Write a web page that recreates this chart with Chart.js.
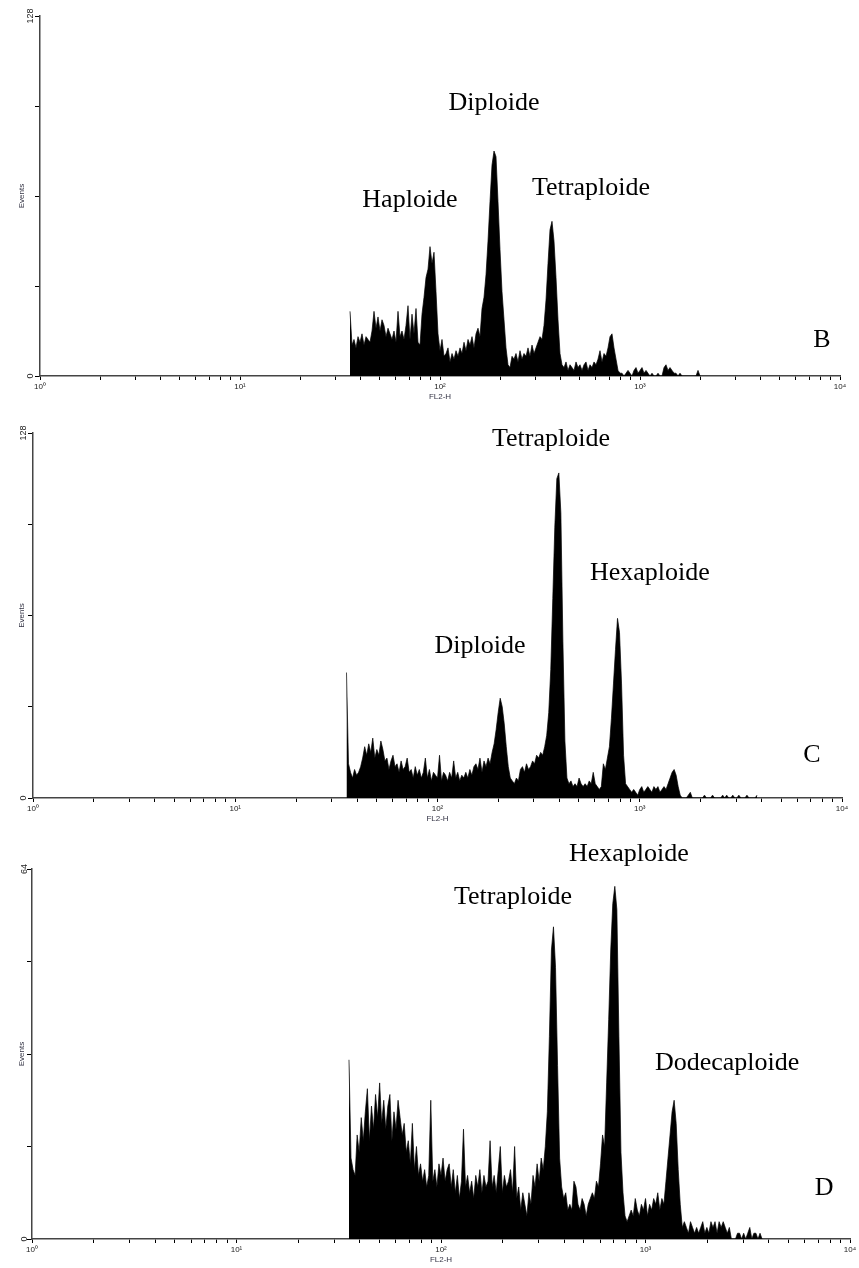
<!DOCTYPE html>
<html><head><meta charset="utf-8">
<script src="https://cdn.jsdelivr.net/npm/chart.js@4.4.1/dist/chart.umd.min.js"></script>
<style>
html,body{margin:0;padding:0;background:#fff;}
body{width:859px;height:1268px;position:relative;overflow:hidden;}
.panel{position:absolute;left:0;width:859px;}
canvas{display:block;}
</style></head><body>
<div class="panel" style="top:0;height:410px"><canvas id="cB" width="859" height="410"></canvas></div>
<div class="panel" style="top:410px;height:420px"><canvas id="cC" width="859" height="420"></canvas></div>
<div class="panel" style="top:830px;height:438px"><canvas id="cD" width="859" height="438"></canvas></div>
<script>
// Channels: log10(FL2-H) of first bin and bin step (0.01 decade per channel)
const BIN_START = 1.55;
const BIN_STEP = 0.01;

// Panel B counts (Events per channel)
const countsB = [
23,11,13,10,14,12,15,11,14,13,
12,16,23,17,21,16,20,18,14,17,
15,13,16,12,23,14,16,13,18,25,
13,22,15,24,12,11,22,28,35,38,
46,40,44,30,15,9,13,7,8,10,
5,8,6,9,7,10,8,12,9,13,
11,14,10,15,17,14,24,28,36,48,
62,75,80,78,62,45,30,20,10,4,
3,7,6,8,5,9,6,8,7,10,
7,11,8,10,12,14,13,18,27,40,
52,55,48,35,20,8,4,3,5,2,
4,3,2,5,3,4,2,4,5,2,
4,3,5,4,6,9,5,8,7,10,
14,15,10,6,2,1,1,0,1,2,
1,0,2,3,1,2,3,1,2,1,
0,1,0,0,1,0,0,3,4,2,
3,2,1,1,0,1,0,0,0,0,
0,0,0,0,2,0];

// Panel C counts
const countsC = [
44,12,9,7,10,8,9,11,14,18,
15,19,16,21,14,17,15,20,17,13,
14,10,13,15,11,12,9,13,10,11,
14,9,10,7,11,8,10,7,9,14,
7,10,6,9,8,7,15,6,9,8,
6,9,7,13,7,9,6,8,7,9,
7,10,8,11,12,10,14,9,13,11,
14,12,16,19,24,30,35,32,26,18,
11,7,6,5,7,6,10,11,9,12,
10,11,13,12,15,14,16,15,18,22,
30,45,70,95,112,114,100,55,20,7,
5,6,4,5,4,7,5,4,5,4,
6,5,9,5,4,3,4,12,10,14,
18,28,40,52,63,58,40,15,5,4,
3,2,3,2,1,3,4,2,3,4,
3,2,4,3,4,2,3,4,3,5,
7,9,10,8,4,1,0,0,0,1,
2,0,0,0,0,0,0,1,0,0,
0,1,0,0,0,0,1,0,1,0,
0,1,0,0,1,0,0,0,1,0,
0,0,0,1];

// Panel D counts
const countsD = [
31,14,12,11,18,15,21,17,22,26,
17,23,19,25,21,27,20,24,19,23,
25,17,22,19,24,21,18,20,15,17,
13,20,12,16,11,13,10,12,9,11,
24,10,12,9,13,11,14,10,12,13,
9,12,8,11,7,10,19,9,11,8,
10,7,11,9,12,8,11,9,10,17,
9,11,8,12,16,8,11,9,10,12,
8,16,7,9,5,8,6,4,8,6,
11,9,13,10,14,12,16,22,35,50,
54,47,30,14,9,7,8,5,6,5,
10,9,6,5,7,6,4,6,7,8,
7,10,9,13,18,16,27,38,50,58,
61,57,35,15,8,4,3,4,5,4,
7,5,4,6,5,7,4,6,5,7,
6,8,5,7,6,10,14,18,22,24,
20,12,6,2,3,2,1,3,2,1,
2,1,2,3,1,2,1,3,2,3,
1,3,2,3,2,1,2,0,0,0,
1,1,0,1,0,1,2,0,1,1,
0,1,0];

// Axis tick values
const xDecades = [1,10,100,1000,10000];
const xMultiples = [1,2,3,4,5,6,7,8,9];
const yMaxB = 128, yMaxC = 128, yMaxD = 64;

// Peak labels: text, log10(FL2-H) of centre, Events at baseline
const labelsB = ["Haploide","Diploide","Tetraploide","B"];
const labelLogXB = [1.85, 2.27, 2.755, 3.91];
const labelYB = [60.1, 94.6, 64.4, 10.3];
const labelsC = ["Tetraploide","Hexaploide","Diploide","C"];
const labelLogXC = [2.561, 3.050, 2.210, 3.851];
const labelYC = [123.4, 76.4, 50.8, 12.6];
const labelsD = ["Tetraploide","Hexaploide","Dodecaploide","D"];
const labelLogXD = [2.352, 2.919, 3.399, 3.873];
const labelYD = [58.0, 65.4, 29.2, 7.6];

const SUP = {'0':'\u2070','1':'\u00B9','2':'\u00B2','3':'\u00B3','4':'\u2074'};
const xTickValues = [];
xDecades.forEach((d,k)=>{ if(k<xDecades.length-1){ xMultiples.forEach(m=>xTickValues.push(d*m)); } else xTickValues.push(d); });

const peakLabelPlugin = {
  id:'peakLabels',
  afterDraw(chart){
    const o = chart.options.plugins.peakLabels;
    const ctx = chart.ctx, xs = chart.scales.x, ys = chart.scales.y;
    ctx.save();
    ctx.font = '26px "Liberation Serif", "Times New Roman", serif';
    ctx.fillStyle = '#000';
    ctx.textAlign = 'center';
    ctx.textBaseline = 'alphabetic';
    o.texts.forEach((t,i)=>{
      ctx.fillText(t, xs.getPixelForValue(Math.pow(10,o.logx[i])), ys.getPixelForValue(o.y[i]));
    });
    ctx.restore();
  }
};

function makePanel(id, counts, yMax, texts, logx, ly, g){
  const pts = counts.map((c,i)=>({x: Math.pow(10, BIN_START + BIN_STEP*i), y: c}));
  const yTicks = [0, yMax/4, yMax/2, 3*yMax/4, yMax];
  new Chart(document.getElementById(id), {
    type:'line',
    data:{datasets:[{data:pts, borderColor:'#000', borderWidth:0.7, backgroundColor:'#000',
      fill:'origin', pointRadius:0, tension:0}]},
    options:{
      responsive:false, animation:false, devicePixelRatio:1,
      layout:{padding:{top:g.top, right:g.padRight, left:0, bottom:0}},
      plugins:{legend:{display:false}, tooltip:{enabled:false},
        peakLabels:{texts:texts, logx:logx, y:ly}},
      scales:{
        x:{type:'logarithmic', min:1, max:10000,
          afterBuildTicks:s=>{ s.ticks = xTickValues.map(v=>({value:v})); },
          afterFit:s=>{ s.height = g.xAxisH; },
          ticks:{autoSkip:false, maxRotation:0, minRotation:0, padding:2, color:'#222',
            font:{size:8, family:'"Liberation Sans", Arial, sans-serif'},
            callback:(v)=>{ const e = Math.round(Math.log10(v)); return (Math.abs(Math.pow(10,e)-v)<1e-6) ? '10'+SUP[String(e)] : ''; }},
          grid:{drawOnChartArea:false, drawTicks:true, tickLength:4, color:'#000', lineWidth:1},
          border:{display:true, color:'#444', width:1.5},
          title:{display:true, text:'FL2-H', color:'#334', font:{size:8, family:'"Liberation Sans", Arial, sans-serif'},
            padding:{top:0, bottom:g.titlePad}}
        },
        y:{type:'linear', min:0, max:yMax,
          afterBuildTicks:s=>{ s.ticks = yTicks.map(v=>({value:v})); },
          afterFit:s=>{ s.width = g.left; },
          ticks:{autoSkip:false, minRotation:90, maxRotation:90, crossAlign:'center', padding:-3, color:'#222',
            font:{size:9, family:'"Liberation Sans", Arial, sans-serif'},
            callback:(v)=> (v===0 || v===yMax) ? String(v) : ''},
          grid:{drawOnChartArea:false, drawTicks:true, tickLength:5, color:'#000', lineWidth:1},
          border:{display:true, color:'#444', width:1.5},
          title:{display:true, text:'Events', color:'#334', font:{size:8, family:'"Liberation Sans", Arial, sans-serif'},
            padding:{top:17, bottom:0}}
        }
      }
    },
    plugins:[peakLabelPlugin]
  });
}

makePanel('cB', countsB, yMaxB, labelsB, labelLogXB, labelYB, {top:16, padRight:19, left:40, xAxisH:34, titlePad:8});
makePanel('cC', countsC, yMaxC, labelsC, labelLogXC, labelYC, {top:23, padRight:17, left:33, xAxisH:32, titlePad:6});
makePanel('cD', countsD, yMaxD, labelsD, labelLogXD, labelYD, {top:39, padRight:9, left:32, xAxisH:29, titlePad:3});
</script>
</body></html>
